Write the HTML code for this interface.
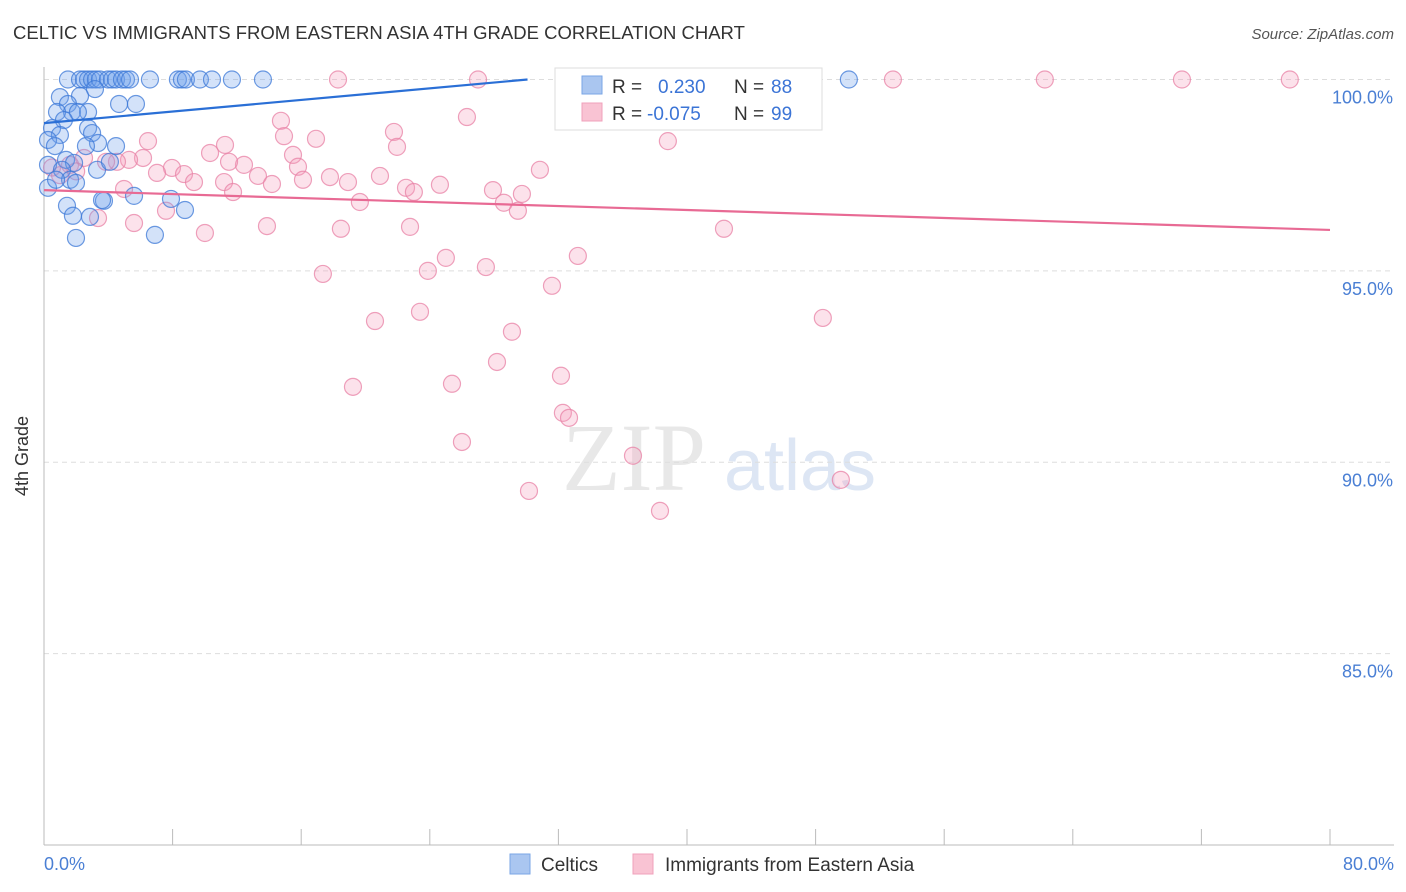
<!DOCTYPE html>
<html><head><meta charset="utf-8">
<style>
body{margin:0;background:#fff;font-family:"Liberation Sans",sans-serif;}
#wrap{position:relative;width:1406px;height:892px;overflow:hidden;}
</style></head>
<body>
<div id="wrap">
<svg id="chart" width="1406" height="892" xmlns="http://www.w3.org/2000/svg">
  <text x="13" y="39" font-size="18.5" fill="#333">CELTIC VS IMMIGRANTS FROM EASTERN ASIA 4TH GRADE CORRELATION CHART</text>
  <text x="1394" y="39" font-size="15" fill="#555" text-anchor="end" font-style="italic">Source: ZipAtlas.com</text>
  <text x="634" y="490" font-size="96" fill="#e8e8e8" font-family="Liberation Serif" text-anchor="middle">ZIP</text>
  <text x="800" y="490" font-size="72" fill="#dde6f4" text-anchor="middle">atlas</text>
  <g id="grid"></g>
  <g id="axes"></g>
  <g id="pts"></g>
  <g id="lines"></g>
  <text x="28" y="456" font-size="18" fill="#333" text-anchor="middle" transform="rotate(-90 28 456)">4th Grade</text>
  <text x="44" y="870" font-size="18" fill="#4a7fd4">0.0%</text>
  <text x="1394" y="870" font-size="18" fill="#4a7fd4" text-anchor="end">80.0%</text>
  <g>
    <rect x="555" y="68" width="267" height="62" fill="#fff" stroke="#ddd"/>
    <rect x="582" y="76" width="20" height="18" fill="#aac6f0" stroke="#7aa6e6"/>
    <rect x="582" y="103" width="20" height="18" fill="#f9c3d3" stroke="#f0a0bb"/>
    <text x="612" y="93" font-size="19" fill="#333">R = </text><text x="658" y="93" font-size="19" fill="#3b74d6">0.230</text>
    <text x="734" y="93" font-size="19" fill="#333">N = </text><text x="771" y="93" font-size="19" fill="#3b74d6">88</text>
    <text x="612" y="120" font-size="19" fill="#333">R = </text><text x="647" y="120" font-size="19" fill="#3b74d6">-0.075</text>
    <text x="734" y="120" font-size="19" fill="#333">N = </text><text x="771" y="120" font-size="19" fill="#3b74d6">99</text>
  </g>
  <g>
    <rect x="510" y="854" width="20" height="20" fill="#aac6f0" stroke="#7aa6e6"/>
    <text x="541" y="871" font-size="19" fill="#333">Celtics</text>
    <rect x="633" y="854" width="20" height="20" fill="#f9c3d3" stroke="#f0a0bb"/>
    <text x="665" y="871" font-size="19" fill="#333">Immigrants from Eastern Asia</text>
  </g>
</svg>
</div>
<script>
const yTicks=[100,95,90,85];
const xTickVals=[0,8,16,24,32,40,48,56,64,72,80];
const celticsX=[1.49,2.24,2.49,2.74,2.99,3.23,3.48,3.98,4.23,4.48,4.85,5.1,5.35,6.59,8.33,8.58,8.83,9.7,10.45,11.69,13.62,50.07,
4.67,5.72,0.99,3.17,2.24,1.49,1.74,2.74,2.11,0.81,1.24,0.5,0.99,0.25,0.68,2.74,2.99,3.36,2.61,4.48,1.37,1.87,0.25,1.12,1.62,1.99,0.25,1.43,2.86,3.3,3.73,4.1,5.6,6.9,7.9,8.77,1.8,1.99,3.61,0.75];
const celticsY=[100,100,100,100,100,100,100,100,100,100,100,100,100,100,100,100,100,100,100,100,100,100,
99.36,99.36,99.54,99.75,99.57,99.36,99.15,99.15,99.15,99.15,98.94,98.73,98.55,98.42,98.26,98.73,98.6,98.34,98.26,98.26,97.9,97.82,97.77,97.64,97.38,97.3,97.17,96.7,96.41,97.64,96.83,97.85,96.96,95.94,96.88,96.59,96.44,95.86,96.85,97.38];
const immX=[18.29,27.0,37.07,37.57,52.81,62.26,70.79,77.5,
14.74,26.31,21.77,38.81,6.47,14.93,16.92,21.96,11.26,15.49,10.33,6.16,5.29,2.49,1.62,12.44,11.51,4.54,3.86,7.96,15.8,7.03,8.71,13.31,16.11,17.79,20.9,18.91,9.33,11.2,14.18,22.52,23.01,24.63,27.93,29.73,28.61,30.85,4.98,11.76,19.65,29.48,7.59,3.36,5.6,10.01,13.87,18.47,22.77,42.3,33.21,25.0,27.49,23.88,17.35,31.6,23.39,20.59,48.45,29.11,28.18,32.16,19.22,25.38,32.28,32.66,26.0,36.64,49.57,30.17,38.32,0.5,1.0,2.0];
const immY=[100,100,100,100,100,100,100,100,
98.92,99.02,98.63,98.39,98.39,98.52,98.45,98.24,98.29,98.03,98.08,97.95,97.9,97.95,97.77,97.77,97.85,97.85,97.85,97.69,97.72,97.56,97.53,97.48,97.38,97.45,97.48,97.32,97.32,97.32,97.27,97.17,97.06,97.25,97.11,97.01,96.78,97.64,97.14,97.06,96.8,96.57,96.57,96.38,96.25,95.99,96.17,96.1,96.15,96.1,95.39,95.34,95.1,95.0,94.92,94.61,93.93,93.69,93.77,93.41,92.62,92.26,91.97,92.05,91.29,91.16,90.53,90.17,89.54,89.25,88.73,97.7,97.5,97.6];
const celticsTrend=[98.86,0.0379];
const immTrend=[97.11,-0.013];
const X0=44,X1=1330,Y0=79.5,Y1=845;
const xs=v=>X0+(v/80)*(X1-X0);
const ys=v=>Y0+(100-v)/20*(Y1-Y0);
const NS='http://www.w3.org/2000/svg';
function mk(tag,attrs,parent){const e=document.createElementNS(NS,tag);for(const k in attrs)e.setAttribute(k,attrs[k]);document.getElementById(parent).appendChild(e);return e;}
yTicks.forEach(t=>{
  const l=mk('line',{x1:X0,x2:1394,y1:ys(t),y2:ys(t),stroke:'#ddd','stroke-dasharray':'5,4'},'grid');
  
  
  const tx=mk('text',{x:1393,y:ys(t)+24,'font-size':18,fill:'#4a7fd4','text-anchor':'end'},'grid');
  tx.textContent=t.toFixed(1)+'%';
  
  
});
const ax=mk('line',{x1:X0,x2:X0,y1:67,y2:Y1,stroke:'#bbb'},'axes');


const bx=mk('line',{x1:X0,x2:1394,y1:Y1,y2:Y1,stroke:'#bbb'},'axes');


xTickVals.forEach(v=>{
  const t=mk('line',{x1:xs(v),x2:xs(v),y1:Y1-16,y2:Y1,stroke:'#bbb'},'axes');
  
  
});
immX.forEach((x,i)=>{
  const c=mk('circle',{cx:xs(x),cy:ys(immY[i]),r:8.5,fill:'rgba(244,160,190,0.3)',stroke:'rgba(232,130,165,0.75)','stroke-width':1.2},'pts');
  
  
});
celticsX.forEach((x,i)=>{
  const c=mk('circle',{cx:xs(x),cy:ys(celticsY[i]),r:8.5,fill:'rgba(110,160,235,0.3)',stroke:'rgba(60,120,215,0.75)','stroke-width':1.2},'pts');
  
  
});
const bEnd=(100-celticsTrend[0])/celticsTrend[1];
const bl=mk('line',{x1:xs(0),y1:ys(celticsTrend[0]),x2:xs(bEnd),y2:ys(100),stroke:'#2a6fd6','stroke-width':2.2},'lines');


const pl=mk('line',{x1:xs(0),y1:ys(immTrend[0]),x2:xs(80),y2:ys(immTrend[0]+immTrend[1]*80),stroke:'#e86a94','stroke-width':2.2},'lines');


</script>
</body></html>
